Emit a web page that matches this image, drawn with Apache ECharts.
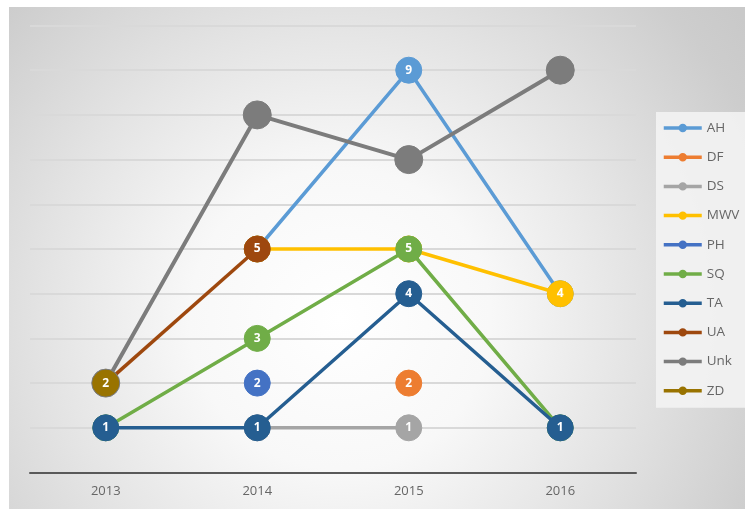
<!DOCTYPE html>
<html>
<head>
<meta charset="utf-8">
<script src="https://cdn.jsdelivr.net/npm/echarts@6/dist/echarts.min.js"></script>
<style>
  html, body { margin: 0; padding: 0; background: #ffffff; }
  #chart { width: 745px; height: 509px; }
</style>
</head>
<body>
<div id="chart"></div>
<script>
// Years along the x axis
const years = ['2013', '2014', '2015', '2016'];

// Counts per group and year (null = no entry that year)
const AH  = [null, 5, 9, 4];
const DF  = [null, null, 2, null];
const DS  = [null, 1, 1, null];
const MWV = [null, 5, 5, 4];
const PH  = [null, 2, null, null];
const SQ  = [1, 3, 5, 1];
const TA  = [1, 1, 4, 1];
const UA  = [2, 5, null, null];
const Unk = [2, 8, 7, 9];
const ZD  = [2, null, null, null];

const groups = [
  { name: 'AH',  data: AH,  color: '#5B9BD5' },
  { name: 'DF',  data: DF,  color: '#ED7D31' },
  { name: 'DS',  data: DS,  color: '#A5A5A5' },
  { name: 'MWV', data: MWV, color: '#FFC000' },
  { name: 'PH',  data: PH,  color: '#4472C4' },
  { name: 'SQ',  data: SQ,  color: '#70AD47' },
  { name: 'TA',  data: TA,  color: '#255E91' },
  { name: 'UA',  data: UA,  color: '#9E480E' },
  { name: 'Unk', data: Unk, color: '#7c7c7c', noLabel: true },
  { name: 'ZD',  data: ZD,  color: '#997300' }
];

const chart = echarts.init(document.getElementById('chart'));

const series = groups.map((g, i) => ({
  name: g.name,
  type: 'line',
  data: g.data,
  z: 2 + i,
  symbol: 'circle',
  symbolSize: g.noLabel ? 28 : 26,
  showAllSymbol: true,
  connectNulls: false,
  lineStyle: { color: g.color, width: g.noLabel ? 4 : 3.5 },
  itemStyle: { color: g.color, borderColor: g.color, borderWidth: 1 },
  emphasis: { disabled: true },
  label: {
    show: !g.noLabel,
    position: 'inside',
    color: '#ffffff',
    fontSize: 12,
    fontWeight: 'bold',
    fontFamily: 'Open Sans, sans-serif'
  },
  animation: false
}));

chart.setOption({
  animation: false,
  color: groups.map(g => g.color),
  graphic: [{
    type: 'rect',
    left: 9,
    top: 7,
    z: -10,
    silent: true,
    shape: { width: 736, height: 502 },
    style: {
      fill: new echarts.graphic.RadialGradient(0.45, 0.62, 1.0, [
        { offset: 0, color: '#ffffff' },
        { offset: 0.3, color: '#f8f8f8' },
        { offset: 0.6, color: '#e3e3e3' },
        { offset: 0.9, color: '#cdcdcd' },
        { offset: 1, color: '#c9c9c9' }
      ])
    }
  }],
  grid: { left: 30, right: 109, top: 25.5, bottom: 36.5 },
  legend: {
    orient: 'vertical',
    left: 656,
    top: 112,
    padding: [9, 20, 10, 6],
    backgroundColor: 'rgba(243,243,243,0.9)',
    itemWidth: 38,
    itemHeight: 8,
    itemGap: 15.2,
    lineStyle: { width: 3.5 },
    textStyle: { color: '#666666', fontSize: 13.5, fontFamily: 'Open Sans, sans-serif' },
    data: groups.map(g => g.name)
  },
  xAxis: {
    type: 'category',
    data: years,
    boundaryGap: true,
    axisLine: { lineStyle: { color: '#595959', width: 2 } },
    axisTick: { show: false },
    axisLabel: { color: '#666666', fontSize: 13, margin: 12, fontFamily: 'Open Sans, sans-serif' }
  },
  yAxis: {
    type: 'value',
    min: 0,
    max: 10,
    interval: 1,
    axisLine: { show: false },
    axisTick: { show: false },
    axisLabel: { show: false },
    splitLine: { lineStyle: { color: '#d9d9d9', width: 2 } }
  },
  series: series
});
</script>
</body>
</html>
